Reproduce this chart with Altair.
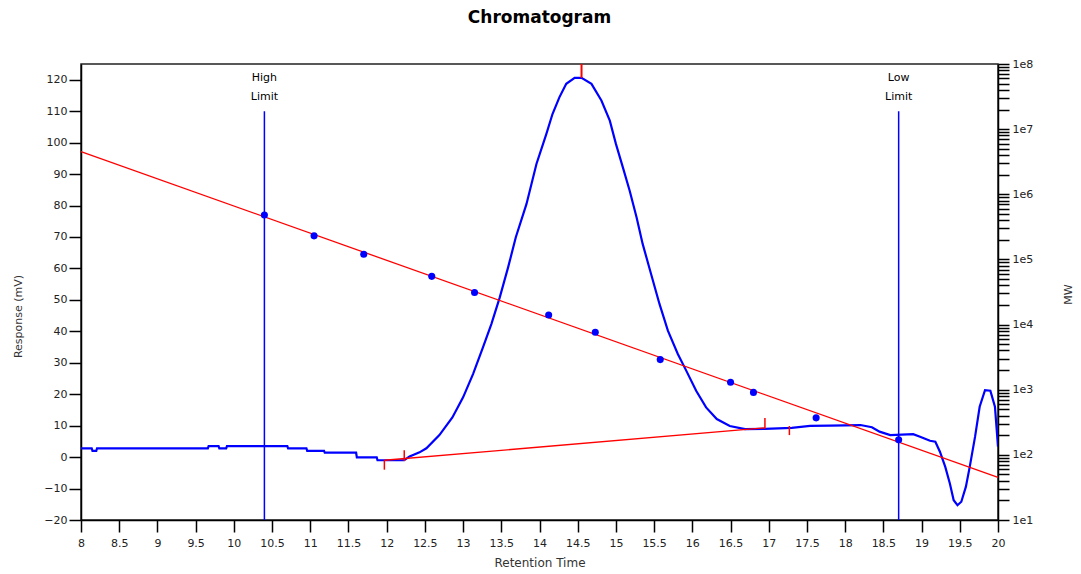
import altair as alt
import pandas as pd

# ---- data ----
rt = [8.0, 8.14, 8.15, 8.2, 8.21, 9.66, 9.67, 9.8, 9.81, 9.9, 9.91, 10.7, 10.71, 10.95, 10.96,
      11.18, 11.19, 11.6, 11.61, 11.87, 11.88, 12.23, 12.3, 12.43, 12.52, 12.69, 12.86, 13.0,
      13.13, 13.26, 13.37, 13.48, 13.59, 13.69, 13.83, 13.96, 14.09, 14.17, 14.26, 14.35, 14.46,
      14.55, 14.68, 14.81, 14.92, 15.0, 15.09, 15.18, 15.27, 15.35, 15.46, 15.57, 15.68, 15.81,
      15.92, 16.05, 16.18, 16.32, 16.49, 16.69, 16.95, 17.3, 17.54, 17.8, 18.2, 18.35, 18.45,
      18.59, 18.89, 18.98, 19.11, 19.18, 19.24, 19.31, 19.37, 19.42, 19.47, 19.52, 19.58, 19.63,
      19.70, 19.76, 19.83, 19.90, 19.96, 20.0]
response = [2.8, 2.8, 2.0, 2.0, 2.8, 2.8, 3.5, 3.5, 2.8, 2.8, 3.5, 3.5, 2.8, 2.8, 2.0,
            2.0, 1.4, 1.4, -0.1, -0.1, -1.0, -1.0, 0.2, 1.5, 2.8, 7.0, 12.6, 19.0,
            26.4, 34.9, 42.3, 50.8, 60.4, 69.9, 80.5, 93.2, 102.8, 109.1, 114.4, 118.7, 120.6,
            120.6, 118.7, 113.4, 107.0, 99.6, 92.2, 84.7, 76.3, 67.8, 58.2, 48.7, 40.2, 32.8,
            27.5, 21.1, 15.8, 12.1, 9.9, 8.9, 9.0, 9.3, 9.9, 10.0, 10.2, 9.5, 8.1,
            7.0, 7.3, 6.5, 5.2, 4.9, 1.7, -3.1, -8.4, -13.7, -15.3, -14.2, -9.4, -3.1,
            6.5, 16.0, 21.3, 21.1, 16.0, 3.3]

cal_rt = [10.4, 11.05, 11.7, 12.59, 13.15, 14.12, 14.73, 15.58, 16.5, 16.8, 17.62, 18.7]
cal_mw = [4.8e5, 2.3e5, 1.2e5, 5.5e4, 3.1e4, 1.4e4, 7.6e3, 2.9e3, 1.3e3, 9.1e2, 3.7e2, 1.7e2]
fit_rt = [8.0, 20.0]
fit_mw = [4.5e6, 45.0]

limit_rt = [10.4, 18.7]
limit_top = [110, 110]
limit_word1 = ["High", "Low"]

base_rt = [11.97, 16.95]
base_resp = [-1.0, 9.3]

mark_rt = [11.97, 12.23, 16.95, 17.27]
mark_lo = [-4.0, -1.2, 9.0, 7.0]
mark_hi = [-1.0, 2.2, 12.4, 9.9]

peak_rt = [14.55]
peak_lo = [120.6]
peak_hi = [125]

x_ticks = [8 + 0.5 * i for i in range(25)]
y_ticks = list(range(-20, 121, 10))
mw_ticks = [m * 10 ** e for e in range(1, 8) for m in range(1, 10)] + [1e8]

FONT = "DejaVu Sans"

xscale = alt.Scale(domain=[8, 20], nice=False, zero=False)
yscale = alt.Scale(domain=[-20, 125], nice=False, zero=False)
mwscale = alt.Scale(type="log", domain=[10, 1e8], nice=False)

xaxis = alt.Axis(values=x_ticks, format="~g", title="Retention Time", grid=False,
                 tickSize=12, labelPadding=5, titlePadding=9, titleFontSize=12,
                 labelFlush=False)
yaxis = alt.Axis(values=y_ticks, format="d", title="Response (mV)", grid=False,
                 tickSize=12, labelPadding=2, orient="left", titleX=-58, titleY=252,
                 titleFontSize=11, labelFlush=False)
mwaxis = alt.Axis(values=mw_ticks, orient="right", title="MW", grid=False,
                  tickSize=11, labelPadding=3, titleAngle=270, titleX=75, titleY=230,
                  titleFontSize=11, labelFlush=False,
                  labelExpr="abs(log(datum.value)/LN10 - round(log(datum.value)/LN10)) < 0.001 ? '1e' + round(log(datum.value)/LN10) : ''")

X = alt.X("rt:Q", scale=xscale, axis=xaxis)

df_curve = pd.DataFrame({"rt": rt, "resp": response})
df_lim = pd.DataFrame({"rt": limit_rt, "top": limit_top, "bot": [-20, -20], "w1": limit_word1,
                       "w2": ["Limit", "Limit"]})
df_base = pd.DataFrame({"rt": base_rt, "resp": base_resp})
df_marks = pd.DataFrame({"rt": mark_rt, "lo": mark_lo, "hi": mark_hi})
df_peak = pd.DataFrame({"rt": peak_rt, "lo": peak_lo, "hi": peak_hi})
df_cal = pd.DataFrame({"rt": cal_rt, "mw": cal_mw})
df_fit = pd.DataFrame({"rt": fit_rt, "mw": fit_mw})

curve = alt.Chart(df_curve).mark_line(color="#0000ff", strokeWidth=2.2, clip=True).encode(
    x=X,
    y=alt.Y("resp:Q", scale=yscale, axis=yaxis),
    order="rt:Q",
)
lims = alt.Chart(df_lim).mark_rule(color="#0000ff", strokeWidth=1.5).encode(
    x=X,
    y=alt.Y("bot:Q", scale=yscale, axis=yaxis),
    y2="top:Q",
)
lim_t1 = alt.Chart(df_lim).mark_text(font=FONT, fontSize=11, color="black", dy=-33).encode(
    x=X,
    y=alt.Y("top:Q", scale=yscale, axis=yaxis),
    text="w1:N",
)
lim_t2 = alt.Chart(df_lim).mark_text(font=FONT, fontSize=11, color="black", dy=-14).encode(
    x=X,
    y=alt.Y("top:Q", scale=yscale, axis=yaxis),
    text="w2:N",
)
base = alt.Chart(df_base).mark_line(color="#ff0000", strokeWidth=1.3).encode(
    x=X,
    y=alt.Y("resp:Q", scale=yscale, axis=yaxis),
)
marks = alt.Chart(df_marks).mark_rule(color="#ff0000", strokeWidth=1.5).encode(
    x=X,
    y=alt.Y("lo:Q", scale=yscale, axis=yaxis),
    y2="hi:Q",
)
peak = alt.Chart(df_peak).mark_rule(color="#ff0000", strokeWidth=2).encode(
    x=X,
    y=alt.Y("lo:Q", scale=yscale, axis=yaxis),
    y2="hi:Q",
)
left = alt.layer(curve, lims, lim_t1, lim_t2, base, marks, peak)

fit = alt.Chart(df_fit).mark_line(color="#ff0000", strokeWidth=1.3).encode(
    x=X,
    y=alt.Y("mw:Q", scale=mwscale, axis=mwaxis),
)
dots = alt.Chart(df_cal).mark_circle(color="#0000ff", size=50, opacity=1).encode(
    x=X,
    y=alt.Y("mw:Q", scale=mwscale, axis=mwaxis),
)
right = alt.layer(fit, dots)

chart = alt.layer(left, right).resolve_scale(y="independent").properties(
    width=917, height=456,
    padding={"left": 81, "top": 64, "right": 83, "bottom": 54},
    autosize=alt.AutoSizeParams(type="none"),
    background="white",
    title=alt.Title("Chromatogram", font=FONT, fontSize=17, fontWeight="bold",
                    color="black", offset=31),
).configure_view(stroke="#222", strokeWidth=1.5).configure_axis(
    domainColor="black", domainWidth=1.5, tickColor="black", tickWidth=1.5,
    labelFont=FONT, labelFontSize=11, labelColor="#222",
    titleFont=FONT, titleColor="#333", titleFontWeight="normal",
)

chart.save("out.html", embed_options={"renderer": "svg", "actions": False})
